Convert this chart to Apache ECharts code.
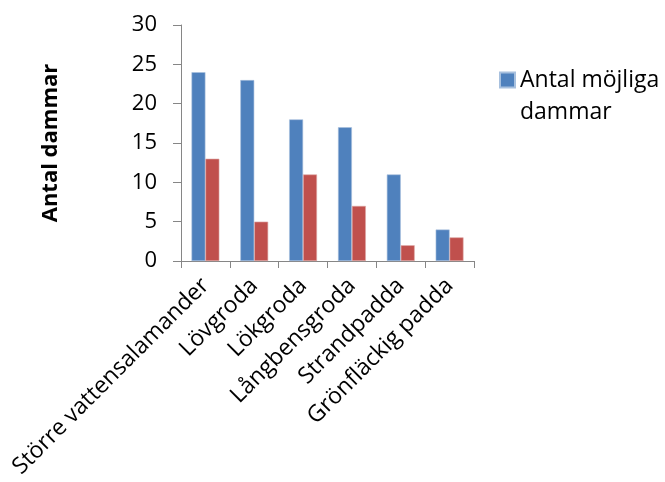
<!DOCTYPE html>
<html>
<head>
<meta charset="utf-8">
<script src="https://cdn.jsdelivr.net/npm/echarts@6/dist/echarts.min.js"></script>
<style>
  html, body { margin: 0; padding: 0; background: #fff; }
  #chart { width: 665px; height: 482px; }
</style>
</head>
<body>
<div id="chart"></div>
<script>
// Arter (kategorier) och antal dammar per art
const categories = ['Större vattensalamander', 'Lövgroda', 'Lökgroda', 'Långbensgroda', 'Strandpadda', 'Grönfläckig padda'];
const possiblePonds = [24, 23, 18, 17, 11, 4];
const foundPonds = [13, 5, 11, 7, 2, 3];
const yTicks = { min: 0, max: 30, interval: 5 };

const FONT = '"Open Sans", "Noto Sans", sans-serif';
const FS = 22;
const axisGrey = '#868686';

const chart = echarts.init(document.getElementById('chart'), null, { renderer: 'canvas' });
chart.setOption({
  animation: false,
  backgroundColor: '#ffffff',
  textStyle: { fontFamily: FONT },
  grid: { left: 181, top: 25, right: 191, bottom: 221, containLabel: false },
  legend: {
    data: ['Antal möjliga dammar'],
    left: 499,
    top: 32,
    padding: 0,
    orient: 'vertical',
    itemWidth: 15,
    itemHeight: 15,
    icon: 'rect',
    // empty first line keeps the swatch level with the first text line
    formatter: () => '\nAntal möjliga\ndammar',
    textStyle: { fontFamily: FONT, fontSize: 23, color: '#000', lineHeight: 32 }
  },
  xAxis: {
    type: 'category',
    data: categories,
    axisLine: { lineStyle: { color: axisGrey, width: 1 } },
    axisTick: { show: true, length: 7, inside: false, lineStyle: { color: axisGrey } },
    axisLabel: {
      rotate: 45,
      interval: 0,
      margin: 21,
      fontFamily: FONT,
      fontSize: 23,
      color: '#000'
    }
  },
  yAxis: {
    type: 'value',
    min: yTicks.min,
    max: yTicks.max,
    interval: yTicks.interval,
    name: 'Antal dammar',
    nameLocation: 'middle',
    nameGap: 119,
    nameRotate: 90,
    nameTextStyle: { fontFamily: FONT, fontSize: FS, fontWeight: 'bold', color: '#000' },
    axisLine: { show: true, lineStyle: { color: axisGrey, width: 1 } },
    axisTick: { show: true, length: 8, lineStyle: { color: axisGrey } },
    splitLine: { show: false },
    axisLabel: { fontFamily: FONT, fontSize: FS, color: '#000', margin: 24 }
  },
  series: [
    {
      name: 'Antal möjliga dammar',
      type: 'bar',
      data: possiblePonds,
      barGap: '0%',
      barCategoryGap: '43%',
      itemStyle: { color: '#4f81bd', borderColor: '#a7c0de', borderWidth: 0.6 }
    },
    {
      name: 'Antal dammar med fynd',
      type: 'bar',
      data: foundPonds,
      itemStyle: { color: '#c0504d', borderColor: '#dda8a6', borderWidth: 0.6 }
    }
  ]
});
</script>
</body>
</html>
